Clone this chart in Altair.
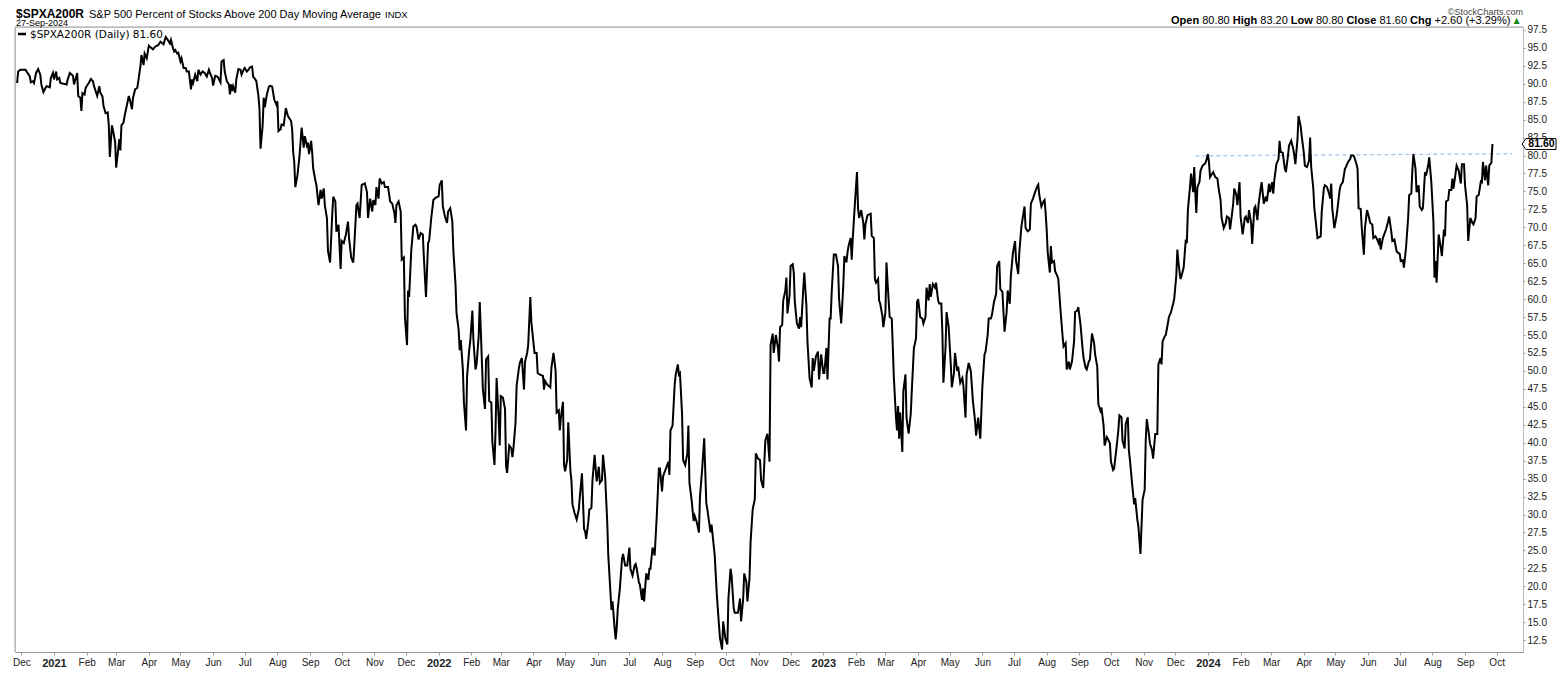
import altair as alt
import pandas as pd

# ---------------- data ----------------
START = pd.Timestamp("2020-11-27")   # first session shown; pairs are (days since START, value)
LAST_CLOSE = 81.60

SEG_A = [(0,90.1),(1,91.7),(3,91.95),(8,91.95),(9,91.7),(11,91.26),(12,91.03),(13,90.2),(15,90.35),(16,90.1),(18,91.5),(20,92.04),(22,91.26),(23,89.9),(25,88.83),(27,89.43),(28,89.66),(31,89.5),(32,90.8),(34,91.5),(35,90.6),(37,91.7),(38,90.6),(40,90.8),(41,90.1),(44,90.0),(47,89.9),(48,90.6),(50,91.5),(53,91.1),(54,89.9),(57,91.5),(58,88.3),(60,88.05),(61,86.2),(62,88.7),(64,88.5),(65,89.4),(67,89.9),(68,90.1),(70,90.67),(72,90.35),(73,89.66),(75,88.74),(76,88.3),(78,89.66),(79,88.74),(81,88.2),(82,86.9),(84,85.9),(86,86.0),(87,84.2),(88,79.8),(90,84.2),(91,83.5),(93,81.9),(94,78.3),(96,80.95),(97,82.3),(98,80.7),(99,84.2),(101,84.6),(102,85.5),(104,86.9),(106,88.3),(107,87.8),(109,86.45),(110,88.05),(112,89.2),(114,89.4),(115,90.35),(117,92.4),(118,94.0),(120,92.6),(121,94.2),(123,93.55),(125,95.3),(126,95.16),(129,94.8),(131,95.16),(134,95.4),(136,95.85),(139,95.5),(141,96.5),(143,96.1),(145,95.6),(146,96.1),(148,94.9),(149,94.5),(150,94.7),(152,94.2),(153,94.3),(155,93.1),(156,93.55),(158,92.2),(160,92.2),(161,91.7),(163,91.7),(165,89.2),(166,90.6),(167,90.1),(169,91.26),(171,90.35),(172,91.95),(174,91.26),(176,91.7),(178,91.5),(180,91.0),(182,91.95),(183,91.5),(185,90.8),(186,89.75),(188,91.1),(190,91.0),(191,90.8),(193,90.2),(194,93.1),(196,93.3),(197,91.7),(199,90.35),(201,89.9),(202,88.5),(203,89.9),(204,88.97),(205,89.66),(207,88.74),(208,90.6),(210,92.04),(212,91.95),(213,91.26),(215,91.95),(216,92.2),(218,91.7),(220,92.04),(221,92.3),(223,92.4),(224,91.0),(226,90.6),(227,90.35),(229,88.3),(230,86.45),(231,80.95),(233,84.2),(234,88.05),(235,86.7),(237,88.5),(239,89.6),(240,89.7)]

SEG_B = [(242,89.6),(244,87.8),(246,87.1),(247,87.55),(248,83.4),(250,83.66),(251,84.34),(253,84.2),(255,86.6),(257,85.5),(260,84.8),(261,83.66),(262,80.45),(263,79.07),(264,75.6),(266,77.2),(268,80.0),(270,83.9),(272,81.1),(273,82.7),(275,81.4),(276,81.8),(277,80.2),(279,82.05),(280,80.45),(281,78.15),(283,76.55),(284,75.9),(286,73.1),(288,75.2),(289,74.0),(291,75.4),(292,73.1),(294,71.3),(295,66.7),(297,65.1),(299,71.7),(300,74.26),(302,73.6),(303,69.4),(305,70.36),(307,64.2),(308,68.1),(310,67.8),(312,69.0),(314,70.8),(315,68.5),(317,65.8),(319,65.1),(320,67.6),(322,73.1),(323,73.3),(325,71.3),(327,75.9),(330,76.1),(332,74.9),(333,71.3),(335,74.0),(337,72.2),(338,73.8),(340,73.1),(341,75.6),(343,74.0),(344,76.8),(346,76.1),(348,76.3),(349,75.6),(352,75.6),(354,73.6),(356,73.3),(358,72.0),(359,70.6),(360,73.1),(362,73.6),(364,72.2),(365,65.5),(367,65.8),(368,57.5),(370,53.6),(371,61.2),(372,60.3),(374,66.7),(376,70.1),(378,70.36),(379,70.1),(381,68.3),(383,69.2),(385,69.0),(386,65.8),(388,60.3),(390,67.8),(391,68.1),(393,71.3),(395,73.8),(397,74.1),(400,74.3),(401,75.9),(403,76.55),(404,72.9),(406,71.5),(408,70.6),(409,72.2),(411,72.65),(413,70.8),(414,66.7),(416,62.1),(417,58.0),(419,55.7),(420,52.9),(421,54.3),(423,50.2),(424,45.6),(426,41.7),(427,49.3),(429,52.9),(430,54.1),(432,58.4),(433,54.3),(435,50.2),(436,50.9),(438,54.8),(439,59.6),(440,55.7),(442,47.4),(444,44.7),(445,51.6),(447,52.0),(448,45.8),(450,45.6),(451,40.1),(453,36.9),(454,41.7),(455,49.0),(457,43.3),(458,39.6),(459,46.5),(461,46.3),(463,44.7),(464,36.7),(465,35.8),(467,39.6),(469,39.2),(470,38.0),(471,39.2),(473,42.85),(474,47.9),(476,50.2),(477,51.1)]

SEG_C = [(479,51.8),(481,47.4),(482,51.3),(484,52.5),(485,53.6),(487,60.3),(488,56.8),(490,53.9),(491,52.5),(493,52.5),(494,49.7),(496,49.5),(499,49.3),(500,47.4),(501,48.6),(503,48.1),(506,47.7),(507,50.4),(509,52.5),(511,50.0),(512,44.2),(514,44.5),(515,41.7),(516,43.5),(518,45.7),(519,36.9),(520,36.0),(522,37.6),(523,42.85),(525,36.2),(526,34.8),(527,31.4),(529,30.2),(531,29.3),(533,30.7),(534,32.5),(536,35.75),(538,27.95),(539,27.7),(540,26.6),(542,28.9),(543,30.7),(545,30.9),(546,34.8),(548,38.3),(549,36.4),(550,34.6),(552,36.66),(553,34.4),(555,34.8),(556,38.3),(558,35.3),(560,28.9),(561,24.3),(563,19.2),(564,16.7),(565,17.9),(567,14.2),(568,12.6),(569,14.2),(570,16.9),(572,19.7),(574,23.8),(575,24.5),(577,22.9),(579,22.9),(581,25.4),(582,22.45),(584,21.5),(586,22.9),(587,23.1),(588,22.45),(590,20.6),(591,20.2),(593,18.1),(594,19.7),(595,17.9),(597,21.8),(599,20.9),(600,22.45),(601,22.45),(603,25.4),(605,24.3),(607,29.8),(609,36.4),(610,36.4),(612,33.2),(613,35.3),(614,35.75),(617,36.9),(618,37.35),(619,35.5),(620,41.7),(622,42.4),(624,48.1),(625,49.5),(627,50.9),(628,49.5),(629,49.7),(631,44.0),(632,37.6),(634,36.9),(636,38.5),(637,42.4),(638,34.4),(640,32.1),(642,29.1),(643,29.8),(645,28.9),(647,27.5),(648,32.5),(650,36.2),(652,40.6),(654,31.6),(655,30.7),(658,27.5),(659,28.6),(661,25.7),(662,24.3),(664,18.8),(666,14.65),(667,12.8),(669,11.2),(670,15.1),(672,12.8),(674,11.9),(675,18.3),(677,22.45),(678,21.5),(680,16.95),(681,16.3),(684,16.3),(686,18.3),(687,15.1),(689,18.3),(690,21.8),(692,20.6),(693,17.9),(695,21.1),(696,26.1),(698,30.7),(700,32.1),(701,38.5),(703,37.8),(705,37.6),(706,34.8),(708,33.7),(710,40.3)]

SEG_D = [(712,41.25),(714,37.35),(715,53.6),(717,55.2),(718,52.5),(720,55.0),(722,53.2),(723,51.3),(724,56.1),(726,56.4),(727,59.8),(729,61.2),(730,63.0),(731,58.0),(733,60.5),(734,64.6),(736,64.86),(737,63.7),(738,59.6),(740,56.6),(742,55.9),(743,57.5),(744,56.1),(746,61.4),(747,63.7),(749,59.1),(750,54.1),(752,49.0),(754,47.7),(755,51.8),(756,50.0),(758,52.0),(760,52.7),(761,48.8),(763,52.3),(765,49.7),(766,49.7),(768,53.2),(769,48.8),(771,57.3),(772,57.3),(773,61.0),(775,66.2),(777,66.2),(779,64.6),(780,60.0),(782,56.6),(784,61.9),(785,66.0),(787,65.1),(788,66.5),(789,67.4),(791,68.5),(792,65.5),(793,68.5),(795,73.3),(797,77.7),(798,72.65),(799,71.3),(801,72.4),(803,70.6),(804,68.3),(805,70.4),(807,71.7),(810,71.9),(811,68.8),(813,68.5),(814,62.8),(815,62.3),(817,62.8),(818,59.8),(819,59.4),(821,57.75),(822,56.1),(824,58.2),(825,65.1),(826,62.3),(828,57.5),(830,57.3),(831,53.2),(832,49.0),(834,43.5),(835,41.7),(836,45.1),(837,40.56),(838,44.2),(840,38.7),(841,47.2),(843,49.5),(844,43.5),(846,41.25),(848,44.0),(849,47.2),(851,53.2),(853,54.5),(854,59.6),(855,60.0),(857,57.5),(859,57.3),(860,56.6),(862,57.5),(863,61.6),(865,59.8),(866,62.1),(867,60.3),(869,62.1),(871,61.6),(872,62.3),(874,59.8),(875,59.4),(877,59.4),(878,55.5),(879,48.35),(881,53.2),(882,58.2),(884,56.1),(886,50.9),(887,47.7),(889,49.7),(890,52.5),(892,50.0),(893,50.6),(895,48.35),(897,49.0),(898,47.9),(900,43.5),(901,49.5),(903,51.1),(905,50.0),(907,45.8),(909,43.1),(910,41.0),(912,43.5),(913,41.9),(914,40.56),(916,47.9),(918,52.3),(919,52.7),(921,55.0),(922,57.3),(924,57.3),(925,57.75),(927,59.6),(929,60.7),(930,64.6),(932,65.3),(933,61.4)]

SEG_E = [(935,61.0),(936,58.2),(937,55.46),(939,58.2),(940,61.2),(942,59.35),(943,63.25),(945,66.46),(947,68.07),(948,65.3),(950,63.5),(951,66.46),(953,70.1),(955,72.0),(956,72.9),(957,69.9),(959,69.45),(961,69.7),(962,73.3),(964,74.0),(966,74.9),(968,75.7),(969,75.95),(970,74.5),(972,72.9),(974,73.6),(975,73.8),(976,72.0),(977,69.7),(978,66.46),(980,63.7),(981,67.4),(982,65.1),(984,65.3),(985,63.9),(987,63.25),(988,62.8),(990,58.7),(992,55.0),(993,53.4),(995,53.85),(996,50.2),(998,51.3),(999,50.2),(1001,51.3),(1003,54.1),(1004,58.2),(1006,58.4),(1007,58.9),(1009,56.6),(1011,53.2),(1012,51.8),(1014,50.4),(1015,50.2),(1017,51.3),(1018,51.56),(1020,55.2),(1022,53.85),(1023,52.25),(1025,50.6),(1026,45.4),(1028,44.45),(1029,44.9),(1031,42.4),(1032,39.6),(1034,40.8),(1035,40.56),(1037,39.9),(1038,37.35),(1040,36.2),(1041,36.4),(1043,38.95),(1045,41.7),(1046,43.8),(1048,43.54),(1049,40.3),(1051,39.2),(1052,42.6),(1054,43.54),(1055,38.95),(1056,37.6),(1058,34.37),(1060,31.4),(1061,32.3),(1063,29.3),(1064,28.4),(1066,24.5),(1067,28.4),(1068,32.07),(1070,33.45),(1071,40.3),(1072,43.3),(1074,41.2),(1075,39.9),(1077,38.95),(1078,37.8),(1080,41.2),(1082,41.2),(1083,50.9),(1085,51.8),(1086,50.9),(1087,54.1),(1089,54.8),(1090,55.0),(1092,56.6),(1093,57.5),(1095,58.2),(1097,59.35),(1098,60.0),(1100,63.25),(1101,66.9),(1102,65.1),(1104,62.8),(1105,63.25),(1107,64.4),(1109,68.3),(1110,67.8),(1111,72.4),(1113,75.6),(1114,77.47),(1116,74.9),(1117,78.4),(1118,74.9),(1119,72.0),(1120,75.6),(1122,76.3),(1123,77.9),(1125,78.6),(1127,78.84),(1128,79.07),(1130,80.2),(1131,79.07),(1132,77.0),(1134,77.47),(1135,77.7),(1137,77.0),(1139,76.8),(1140,75.6),(1142,73.8),(1143,71.3),(1145,69.9),(1147,70.6),(1148,71.5),(1150,71.3),(1151,69.7),(1153,72.0),(1154,73.3),(1155,75.4),(1157,74.5),(1158,73.1),(1160,76.3),(1161,71.5),(1163,69.0),(1165,71.3),(1166,71.5)]

SEG_F = [(1168,70.6),(1169,72.4),(1171,70.6),(1172,67.7),(1174,72.65),(1175,72.9),(1177,71.0),(1178,73.1),(1180,75.4),(1181,76.3),(1183,73.3),(1185,74.3),(1186,73.6),(1188,76.1),(1189,74.9),(1191,76.3),(1192,74.7),(1193,76.55),(1195,78.8),(1197,79.5),(1198,82.05),(1199,80.5),(1201,80.4),(1203,78.15),(1204,77.7),(1206,80.0),(1207,81.4),(1209,82.05),(1211,80.9),(1212,80.0),(1213,78.8),(1215,82.3),(1216,85.5),(1218,84.1),(1219,82.7),(1221,80.4),(1222,78.6),(1224,78.4),(1226,79.3),(1227,82.5),(1228,78.4),(1230,75.4),(1231,72.65),(1233,69.9),(1234,68.5),(1237,68.75),(1238,72.2),(1240,75.4),(1241,75.85),(1243,75.6),(1245,74.7),(1246,74.0),(1247,76.1),(1248,72.65),(1250,69.9),(1252,71.5),(1253,72.65),(1255,75.2),(1256,75.85),(1258,76.3),(1260,78.15),(1261,78.4),(1263,79.1),(1265,79.5),(1266,80.0),(1268,80.0),(1269,79.75),(1271,78.8),(1272,78.15),(1273,72.65),(1275,72.56),(1276,69.9),(1278,66.2),(1279,69.9),(1281,72.4),(1283,71.3),(1284,70.6),(1286,70.4),(1287,68.5),(1289,68.75),(1290,68.5),(1292,67.8),(1293,68.5),(1294,66.9),(1296,68.5),(1299,69.7),(1301,70.8),(1302,71.5),(1304,69.4),(1305,68.1),(1307,68.3),(1309,66.7),(1310,66.5),(1312,66.3),(1313,65.3),(1315,65.4),(1316,64.4),(1318,67.15),(1320,71.3),(1321,74.5),(1323,74.7),(1324,77.9),(1325,80.2),(1327,78.15),(1328,74.9),(1330,75.85),(1331,72.9),(1333,72.4),(1334,72.65),(1336,77.7),(1337,77.2),(1339,78.6),(1340,79.75),(1342,76.3),(1344,70.8),(1345,63.0),(1346,65.3),(1347,62.3),(1349,69.0),(1351,67.15),(1352,66.0),(1354,69.7),(1355,68.75),(1356,73.6),(1358,73.8),(1359,75.2),(1361,75.2),(1362,76.8),(1363,75.4),(1365,77.5),(1366,78.6),(1368,77.9),(1370,76.1),(1371,78.8),(1373,78.8),(1374,75.85),(1376,73.1),(1377,68.1),(1379,71.3),(1381,70.6),(1382,70.4),(1384,71.3),(1385,74.3),(1387,74.5),(1389,76.4),(1390,76.3),(1391,79.1),(1393,76.55),(1394,78.6),(1396,75.85),(1397,78.6),(1399,79.0),(1400,81.6)]

RESIST_DATES = ["2023-12-20", "2024-10-16"]
RESIST_VALUES = [79.95, 80.25]

X_DOMAIN = ["2020-11-25", "2024-10-26"]
Y_DOMAIN = [10.85, 97.9]

MONTH_TICKS = ["2020-12-01",
    "2021-01-01", "2021-02-01", "2021-03-01", "2021-04-01", "2021-05-01", "2021-06-01",
    "2021-07-01", "2021-08-01", "2021-09-01", "2021-10-01", "2021-11-01", "2021-12-01",
    "2022-01-01", "2022-02-01", "2022-03-01", "2022-04-01", "2022-05-01", "2022-06-01",
    "2022-07-01", "2022-08-01", "2022-09-01", "2022-10-01", "2022-11-01", "2022-12-01",
    "2023-01-01", "2023-02-01", "2023-03-01", "2023-04-01", "2023-05-01", "2023-06-01",
    "2023-07-01", "2023-08-01", "2023-09-01", "2023-10-01", "2023-11-01", "2023-12-01",
    "2024-01-01", "2024-02-01", "2024-03-01", "2024-04-01", "2024-05-01", "2024-06-01",
    "2024-07-01", "2024-08-01", "2024-09-01", "2024-10-01"]

Y_TICKS = [12.5, 15.0, 17.5, 20.0, 22.5, 25.0, 27.5, 30.0, 32.5, 35.0, 37.5, 40.0,
           42.5, 45.0, 47.5, 50.0, 52.5, 55.0, 57.5, 60.0, 62.5, 65.0, 67.5, 70.0,
           72.5, 75.0, 77.5, 80.0, 82.5, 85.0, 87.5, 90.0, 92.5, 95.0, 97.5]

# ---------------- build tables ----------------
rows = []
for seg in (SEG_A, SEG_B, SEG_C, SEG_D, SEG_E, SEG_F):
    for d, v in seg:
        rows.append({"date": (START + pd.Timedelta(days=d)).strftime("%Y-%m-%d"), "value": v})
df = pd.DataFrame(rows)
resist = pd.DataFrame({"date": RESIST_DATES, "value": RESIST_VALUES})
tag = pd.DataFrame({"value": [LAST_CLOSE]})
ONE = pd.DataFrame({"k": [0]})

W, H = 1508, 625
FONT = "Liberation Sans"


def dt(s):
    t = pd.Timestamp(s)
    return alt.DateTime(year=t.year, month=t.month, date=t.day, utc=True)


is_year = "utcmonth(datum.value) == 0"
x_axis = alt.Axis(
    values=[dt(s) for s in MONTH_TICKS],
    labelExpr=f"{is_year} ? utcFormat(datum.value, '%Y') : utcFormat(datum.value, '%b')",
    labelFontWeight={"condition": {"test": is_year, "value": "bold"}, "value": "normal"},
    labelFontSize={"condition": {"test": is_year, "value": 11}, "value": 10},
    labelFont=FONT, labelColor="#222", labelPadding=2, labelOverlap=False, labelFlush=False,
    title=None, grid=False, domainColor="#9a9a9a", tickColor="#9a9a9a", tickSize=3,
)
y_axis = alt.Axis(
    orient="right", values=Y_TICKS, format=".1f", title=None, grid=False,
    domainColor="#9a9a9a", domainDash=[1, 1], tickColor="#9a9a9a", tickSize=2,
    labelPadding=2, labelFontSize=10, labelFont=FONT, labelColor="#222",
    labelOverlap=False, labelFlush=False,
)
x_enc = alt.X("date:T", scale=alt.Scale(type="utc", domain=[dt(s) for s in X_DOMAIN]), axis=x_axis)
y_enc = alt.Y("value:Q", scale=alt.Scale(domain=Y_DOMAIN, nice=False, zero=False), axis=y_axis)

line = alt.Chart(df).mark_line(color="#000000", strokeWidth=2, clip=True).encode(x=x_enc, y=y_enc)
dash = alt.Chart(resist).mark_line(color="#a8c5f0", strokeDash=[4, 3], strokeWidth=1.3).encode(x=x_enc, y=y_enc)

frame_left = alt.Chart(ONE).mark_rule(color="#9a9a9a", strokeWidth=1).encode(
    x=alt.value(0), y=alt.value(0), y2=alt.value(H))
frame_top = alt.Chart(ONE).mark_rule(color="#9a9a9a", strokeWidth=1).encode(
    x=alt.value(0), x2=alt.value(W), y=alt.value(0))

TAG_PATH = "M -1 0 L -0.765 -0.32 L 1 -0.32 L 1 0.32 L -0.765 0.32 Z"
tag_box = alt.Chart(tag).mark_point(shape=TAG_PATH, filled=True, color="#ffffff", stroke="#000000",
                                    strokeWidth=1, size=1156, opacity=1).encode(x=alt.value(1524), y=y_enc)
tag_txt = alt.Chart(tag).mark_text(text=f"{LAST_CLOSE:.2f}", font=FONT, fontSize=10.5, fontWeight="bold",
                                   color="#000", align="center", baseline="middle").encode(
    x=alt.value(1526.5), y=y_enc)


def label(text, x, y, size, weight="normal", color="#000000", align="left", font=FONT):
    return alt.Chart(ONE).mark_text(text=text, fontSize=size, fontWeight=weight, color=color,
                                    align=align, baseline="alphabetic", font=font).encode(
        x=alt.value(x), y=alt.value(y))


texts = [
    label("$SPXA200R", 1, -9, 12, "bold"),
    label("S&P 500 Percent of Stocks Above 200 Day Moving Average", 74, -9, 11),
    label("INDX", 370, -9, 9.5),
    label("27-Sep-2024", 1, -1, 9),
    label("\u00a9StockCharts.com", 1508, -12, 9, color="#444444", align="right"),
    label("Open", 1156, -3, 11, "bold"),
    label("80.80", 1187.2, -3, 11),
    label("High", 1217.8, -3, 11, "bold"),
    label("83.20", 1245.3, -3, 11),
    label("Low", 1275.8, -3, 11, "bold"),
    label("80.80", 1300.9, -3, 11),
    label("Close", 1331.4, -3, 11, "bold"),
    label("81.60", 1364.5, -3, 11),
    label("Chg", 1395, -3, 11, "bold"),
    label("+2.60 (+3.29%)", 1419.5, -3, 11),
    label("\u25b2", 1501.5, -4, 8, color="#1a8a1a", align="center", font="DejaVu Sans"),
    label("$SPXA200R (Daily) 81.60", 15, 11, 10.5, font="DejaVu Sans"),
]
legend_glyph = alt.Chart(ONE).mark_rule(color="#000", strokeWidth=2.5).encode(
    x=alt.value(3), x2=alt.value(11), y=alt.value(7))

chart = alt.layer(
    frame_left, frame_top, dash, line, tag_box, tag_txt, legend_glyph, *texts
).properties(
    width=W, height=H,
    autosize=alt.AutoSizeParams(type="none"),
    padding={"left": 7, "top": 19, "right": 34, "bottom": 16},
).configure_view(stroke=None).configure(background="#ffffff")

chart.save("out.html", embed_options={"renderer": "svg", "actions": False})
